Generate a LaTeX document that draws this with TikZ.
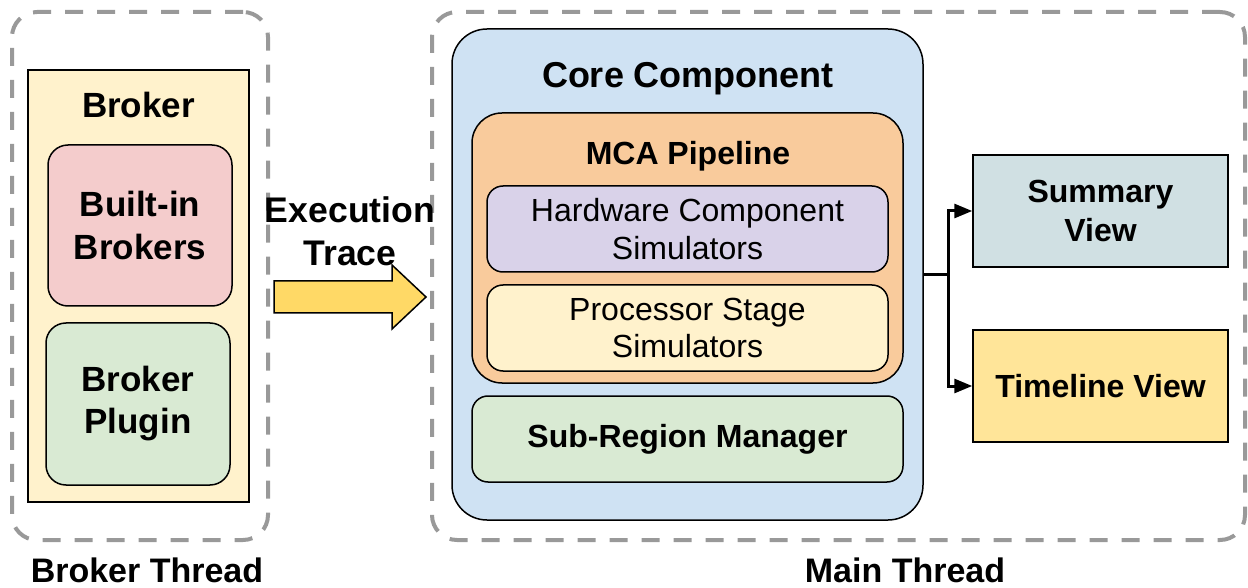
\documentclass[tikz,border=0pt]{standalone}
\usepackage{fontspec}
\setmainfont{Liberation Sans}
\usetikzlibrary{arrows.meta}
\definecolor{dashgray}{HTML}{999999}
\definecolor{cyellow}{HTML}{FFF2CC}
\definecolor{cred}{HTML}{F4CCCC}
\definecolor{cgreen}{HTML}{D9EAD3}
\definecolor{cblue}{HTML}{CFE2F3}
\definecolor{corange}{HTML}{F9CB9C}
\definecolor{cpurple}{HTML}{D9D2E9}
\definecolor{ccyan}{HTML}{D0E0E3}
\definecolor{cgold}{HTML}{FFE599}
\definecolor{carrow}{HTML}{FFD966}
\begin{document}
\begin{tikzpicture}[x=0.5pt,y=-0.5pt,
  thread/.style={draw=dashgray, line width=2pt, dash pattern=on 9pt off 7pt, rounded corners=12.5pt, inner sep=0pt},
  box/.style={draw=black, line width=0.75pt, inner sep=0pt, align=center, text=black},
  fbroker/.style={font=\fontsize{17.5}{21.5}\selectfont\bfseries},
  fthread/.style={font=\fontsize{17}{20}\selectfont\bfseries},
  fbold/.style={font=\fontsize{16}{19.5}\selectfont\bfseries},
  fplain/.style={font=\fontsize{16}{18.75}\selectfont},
  label/.style={inner sep=0pt, align=center, text=black},
  conn/.style={line width=1.5pt, -{Triangle[length=9pt,width=7pt]}}
]
\useasboundingbox (0,0) rectangle (1248,588);
% thread groups
\node[thread, minimum width=128pt, minimum height=264pt] (bthread) at (140,276) {};
\node[thread, minimum width=406.5pt, minimum height=264pt] (mthread) at (838.5,276) {};
\node[label, fthread, anchor=base] (bthreadL) at (147,582) {Broker Thread};
\node[label, fthread, anchor=base] (mthreadL) at (905,582) {Main Thread};
% broker
\node[box, fill=cyellow, minimum width=110.5pt, minimum height=216pt] (broker) at (138.5,286) {};
\node[label, fbroker, anchor=base] (brokerT) at (138.5,117.5) {Broker};
\node[box, fill=cred, rounded corners=10pt, fbroker, minimum width=92pt, minimum height=80.5pt] (builtin) at (140,225.5) {Built-in\\Brokers};
\node[box, fill=cgreen, rounded corners=10pt, fbroker, minimum width=92pt, minimum height=81pt] (plugin) at (138,404) {\raisebox{-3pt}{Broker}\\\raisebox{-2.5pt}{Plugin}};
% execution trace
\node[label, font=\fontsize{17.8}{21.5}\selectfont\bfseries] (exec) at (350,231) {Execution\\Trace};
\draw[line width=0.75pt, fill=carrow] (274,281) -- (392,281) -- (392,265) -- (426,297) -- (392,329) -- (392,313) -- (274,313) -- cycle;
% core
\node[box, fill=cblue, rounded corners=17.5pt, minimum width=235.5pt, minimum height=245.5pt] (core) at (687.5,274.5) {};
\node[label, font=\fontsize{18}{21}\selectfont\bfseries, anchor=base] (coreT) at (688,88) {Core Component};
\node[box, fill=corange, rounded corners=15pt, minimum width=215.5pt, minimum height=135pt] (mca) at (687.5,248) {};
\node[label, fbold, anchor=base] (mcaT) at (688,164.5) {MCA Pipeline};
\node[box, fill=cpurple, rounded corners=8pt, fplain, minimum width=200.5pt, minimum height=43pt] (hw) at (687.5,229) {Hardware Component\\Simulators};
\node[box, fill=cyellow, rounded corners=8pt, fplain, minimum width=200.5pt, minimum height=43pt] (proc) at (687.5,328) {Processor Stage\\Simulators};
\node[box, fill=cgreen, rounded corners=8pt, fbold, minimum width=215.5pt, minimum height=43pt] (sub) at (687.5,439) {Sub-Region Manager};
% views
\node[box, fill=ccyan, fbold, minimum width=127.5pt, minimum height=56pt] (summary) at (1100.5,211) {Summary\\View};
\node[box, fill=cgold, fbold, minimum width=127.5pt, minimum height=56pt] (timeline) at (1100.5,386) {Timeline View};
% connectors
\coordinate (split) at (948,274.5);
\draw[conn] (core.east) -- (split) |- (summary.west);
\draw[conn] (core.east) -- (split) |- (timeline.west);
\end{tikzpicture}
\end{document}
